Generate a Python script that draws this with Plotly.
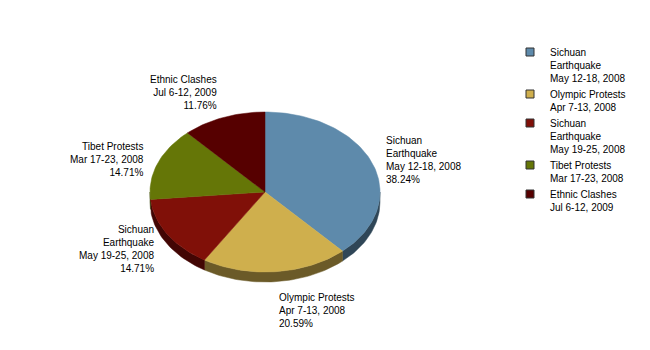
import math
import plotly.graph_objects as go

# ---- data ----
names = [
    "Sichuan<br>Earthquake<br>May 12-18, 2008",
    "Olympic Protests<br>Apr 7-13, 2008",
    "Sichuan<br>Earthquake<br>May 19-25, 2008",
    "Tibet Protests<br>Mar 17-23, 2008",
    "Ethnic Clashes<br>Jul 6-12, 2009",
]
values = [13, 7, 5, 5, 4]
colors = ["#5E8AAB", "#CFAF4D", "#801008", "#657607", "#560000"]
side_colors = ["#2F4657", "#6B5A28", "#420604", "#333C04", "#2C0000"]

# ---- geometry (pixel space) ----
W, H = 650, 350
cx, cy = 265, 192
a, b = 115, 80
depth = 10
FONT = "Liberation Sans"

def pt(theta_deg, dy=0.0, scale=1.0):
    t = math.radians(theta_deg)
    return cx + a * scale * math.sin(t), cy - b * scale * math.cos(t) + dy

total = sum(values)
fig = go.Figure()

starts = []
acc = 0.0
for v in values:
    starts.append(acc / total * 360)
    acc += v
ends = [s + v / total * 360 for s, v in zip(starts, values)]

# sides (lower half: 90..270 deg)
for s, e, sc in zip(starts, ends, side_colors):
    lo, hi = max(s, 90), min(e, 270)
    if hi <= lo:
        continue
    n = max(4, int((hi - lo) / 1.5))
    angs = [lo + (hi - lo) * i / n for i in range(n + 1)]
    xs = [pt(t)[0] for t in angs] + [pt(t, depth)[0] for t in reversed(angs)]
    ys = [pt(t)[1] for t in angs] + [pt(t, depth)[1] for t in reversed(angs)]
    fig.add_trace(go.Scatter(x=xs + [xs[0]], y=ys + [ys[0]], mode="lines",
                             fill="toself", fillcolor=sc,
                             line=dict(color=sc, width=0.5),
                             showlegend=False, hoverinfo="skip"))

# tops
for s, e, c in zip(starts, ends, colors):
    n = max(4, int((e - s) / 1.5))
    angs = [s + (e - s) * i / n for i in range(n + 1)]
    xs = [cx] + [pt(t)[0] for t in angs] + [cx]
    ys = [cy] + [pt(t)[1] for t in angs] + [cy]
    fig.add_trace(go.Scatter(x=xs, y=ys, mode="lines", fill="toself",
                             fillcolor=c, line=dict(color=c, width=0.5),
                             showlegend=False, hoverinfo="skip"))

# legend entries
for nm, c in zip(names, colors):
    fig.add_trace(go.Scatter(x=[None], y=[None], mode="markers", name=nm,
                             marker=dict(symbol="square", size=8, color=c,
                                         line=dict(color="#333333", width=1))))

# labels
for nm, v, s, e in zip(names, values, starts, ends):
    mid = (s + e) / 2
    t = math.radians(mid)
    sn, cs = math.sin(t), math.cos(t)
    x, y = pt(mid, scale=1.11)
    if cs < 0:
        y += depth
    xa = "left" if sn > 0.05 else "right"
    ya = "bottom" if cs > 0.7 else ("top" if cs < -0.7 else "middle")
    if ya == "bottom":
        y += 4
    pct = v / total * 100
    fig.add_annotation(x=x, y=y, xref="x", yref="y", showarrow=False,
                       text=f"{nm}<br>{pct:.2f}%", xanchor=xa, yanchor=ya,
                       align=xa,
                       font=dict(family=FONT, size=10, color="#000000"))

fig.update_layout(
    width=W, height=H, margin=dict(l=0, r=0, t=0, b=0),
    paper_bgcolor="white", plot_bgcolor="white",
    xaxis=dict(range=[0, W], visible=False, fixedrange=True),
    yaxis=dict(range=[H, 0], visible=False, fixedrange=True),
    legend=dict(x=510 / W, y=1 - 39 / H, xanchor="left", yanchor="top",
                font=dict(family=FONT, size=10, color="#000000"),
                itemwidth=30, valign="top", tracegroupgap=0,
                bgcolor="rgba(0,0,0,0)"),
    showlegend=True,
)

fig.write_html("out.html")
